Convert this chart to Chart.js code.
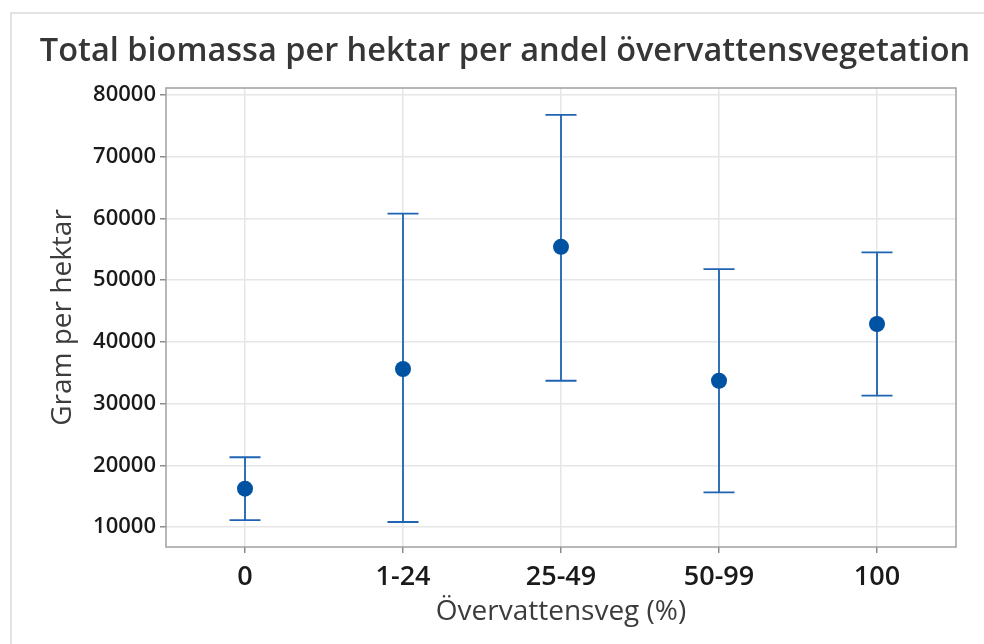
<!DOCTYPE html>
<html>
<head>
<meta charset="utf-8">
<script src="https://cdn.jsdelivr.net/npm/chart.js@4.4.1/dist/chart.umd.min.js"></script>
<style>
  html, body { margin: 0; padding: 0; background: #ffffff; }
  #wrap { position: relative; width: 984px; height: 644px; overflow: hidden; }
  #frame { position: absolute; left: 10px; top: 12px; width: 990px; height: 700px;
           border-left: 2px solid #e3e3e3; border-top: 2px solid #e3e3e3; pointer-events: none; }
  canvas { position: absolute; left: 0; top: 0; }
</style>
</head>
<body>
<div id="wrap">
  <div id="frame"></div>
  <canvas id="c" width="984" height="644"></canvas>
</div>
<script>
const categories = ['0', '1-24', '25-49', '50-99', '100'];
const means = [16200, 35600, 55400, 33700, 42900];
const lower = [11100, 10800, 33700, 15600, 31300];
const upper = [21300, 60800, 76800, 51800, 54500];
const yTicks = [10000, 20000, 30000, 40000, 50000, 60000, 70000, 80000];

const titleText = 'Total biomassa per hektar per andel övervattensvegetation';
const FONT = '"Open Sans", "Noto Sans", sans-serif';

const titlePlugin = {
  id: 'customTitle',
  afterDraw(chart) {
    const ctx = chart.ctx;
    ctx.save();
    ctx.font = '600 32.5px ' + FONT;
    ctx.fillStyle = '#363636';
    ctx.textAlign = 'center';
    ctx.textBaseline = 'alphabetic';
    ctx.fillText(titleText, 505, 61);
    ctx.restore();
  }
};

const errorBarPlugin = {
  id: 'errorBars',
  beforeDatasetsDraw(chart) {
    const ctx = chart.ctx;
    const xs = chart.scales.x, ys = chart.scales.y;
    ctx.save();
    ctx.strokeStyle = '#1f63b3';
    ctx.lineWidth = 1.8;
    const cap = 15.5;
    for (let i = 0; i < categories.length; i++) {
      const x = xs.getPixelForValue(i);
      const yl = ys.getPixelForValue(lower[i]);
      const yu = ys.getPixelForValue(upper[i]);
      ctx.beginPath();
      ctx.moveTo(x, yu); ctx.lineTo(x, yl);
      ctx.moveTo(x - cap, yu); ctx.lineTo(x + cap, yu);
      ctx.moveTo(x - cap, yl); ctx.lineTo(x + cap, yl);
      ctx.stroke();
    }
    ctx.restore();
  }
};

const borderPlugin = {
  id: 'plotBorder',
  beforeDatasetsDraw(chart) {
    const a = chart.chartArea, ctx = chart.ctx;
    ctx.save();
    ctx.strokeStyle = '#a0a0a0';
    ctx.lineWidth = 1.5;
    ctx.strokeRect(a.left, a.top, a.right - a.left, a.bottom - a.top);
    ctx.restore();
  }
};

new Chart(document.getElementById('c'), {
  type: 'line',
  data: {
    labels: categories,
    datasets: [{
      label: 'Medel',
      data: means,
      showLine: false,
      pointRadius: 8,
      pointHoverRadius: 8,
      pointBackgroundColor: '#0052a3',
      pointBorderColor: '#0052a3',
      pointBorderWidth: 0
    }]
  },
  options: {
    responsive: false,
    animation: false,
    events: [],
    layout: { padding: { top: 88, right: 28, left: 0, bottom: 0 } },
    plugins: {
      legend: { display: false },
      title: { display: false },
      tooltip: { enabled: false }
    },
    scales: {
      x: {
        type: 'category',
        offset: true,
        grid: { display: true, offset: false, color: '#e6e6e6', lineWidth: 1.5, tickLength: 6, tickColor: '#8c8c8c', drawTicks: true },
        border: { display: false },
        ticks: { color: '#1a1a1a', font: { family: FONT, size: 27, weight: '600' }, padding: 8, maxRotation: 0 },
        title: { display: true, text: 'Övervattensveg (%)', color: '#3c3c3c', font: { family: FONT, size: 28, weight: '400' }, padding: { top: 0, bottom: 15 } },
        afterFit(s) { s.height = 97; }
      },
      y: {
        type: 'linear',
        min: 6750,
        max: 81150,
        afterBuildTicks(s) { s.ticks = yTicks.map(v => ({ value: v })); },
        grid: { color: '#e6e6e6', lineWidth: 1.5, tickLength: 6, tickColor: '#8c8c8c' },
        border: { display: false },
        ticks: { color: '#1a1a1a', font: { family: FONT, size: 22, weight: '600' }, padding: 4, callback: v => String(v) },
        title: { display: true, text: 'Gram per hektar', color: '#3c3c3c', font: { family: FONT, size: 28, weight: '400' }, padding: { top: 46, bottom: 0 } },
        afterFit(s) { s.width = 166; }
      }
    }
  },
  plugins: [errorBarPlugin, borderPlugin, titlePlugin]
});
</script>
</body>
</html>
